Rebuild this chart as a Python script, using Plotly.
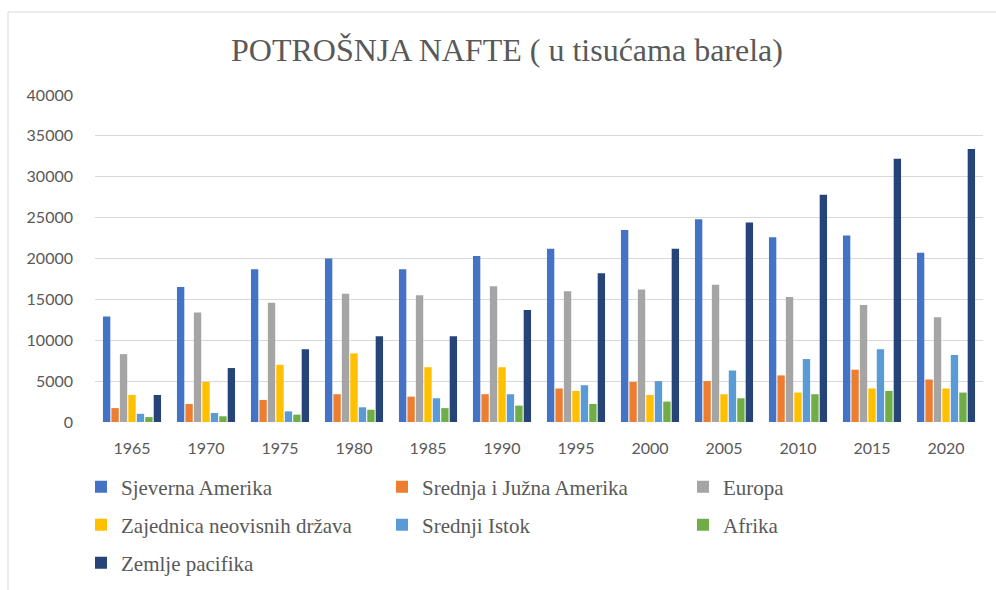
import plotly.graph_objects as go

years = ["1965", "1970", "1975", "1980", "1985", "1990", "1995", "2000", "2005", "2010", "2015", "2020"]

sjeverna_amerika = [12900, 16500, 18700, 20000, 18700, 20300, 21200, 23500, 24800, 22600, 22800, 20700]
srednja_juzna = [1700, 2200, 2700, 3400, 3100, 3400, 4100, 4900, 5000, 5700, 6400, 5200]
europa = [8300, 13400, 14600, 15700, 15500, 16600, 16000, 16200, 16800, 15300, 14300, 12800]
zajednica = [3300, 4900, 7000, 8400, 6700, 6700, 3800, 3300, 3400, 3600, 4100, 4100]
srednji_istok = [1000, 1100, 1300, 1800, 2900, 3400, 4500, 5000, 6300, 7700, 8900, 8200]
afrika = [600, 700, 900, 1500, 1700, 2000, 2200, 2500, 2900, 3400, 3800, 3600]
pacifik = [3300, 6600, 8900, 10500, 10500, 13700, 18200, 21200, 24400, 27800, 32200, 33400]

series = [
    ("Sjeverna Amerika", sjeverna_amerika, "#4472C4", "legend"),
    ("Srednja i Južna Amerika", srednja_juzna, "#ED7D31", "legend"),
    ("Europa", europa, "#A5A5A5", "legend"),
    ("Zajednica neovisnih država", zajednica, "#FFC000", "legend2"),
    ("Srednji Istok", srednji_istok, "#5B9BD5", "legend2"),
    ("Afrika", afrika, "#70AD47", "legend2"),
    ("Zemlje pacifika", pacifik, "#264478", "legend3"),
]

fig = go.Figure()
for name, vals, color, lg in series:
    fig.add_trace(go.Bar(x=years, y=vals, name=name, marker=dict(color=color, line=dict(width=0)),
                         legend=lg))

W, H = 996, 590
L, R, T, B = 95, 13, 95, 168
pw = W - L - R
ph = H - T - B

def px_x(px):
    return (px - L) / pw

def px_y(py):
    return (H - B - py) / ph

legend_font = dict(family="Liberation Serif", size=21, color="#595959")
leg_common = dict(orientation="h", xanchor="left", yanchor="middle", entrywidth=256,
                  font=legend_font, bgcolor="rgba(0,0,0,0)", borderwidth=0,
                  traceorder="normal", itemclick=False)

fig.update_layout(
    width=W, height=H,
    margin=dict(l=L, r=R, t=T, b=B, autoexpand=False),
    paper_bgcolor="white", plot_bgcolor="white",
    title=dict(text="POTROŠNJA NAFTE ( u tisućama barela)", x=507 / W, xanchor="center",
               y=1 - 50 / H, yanchor="middle", yref="container",
               font=dict(family="Liberation Serif", size=32, color="#595959")),
    barmode="group", bargap=0.2, bargroupgap=0.13,
    xaxis=dict(type="category", showgrid=False, showline=False, zeroline=False,
               ticks="", ticklabelstandoff=15,
               tickfont=dict(family="Lato", size=16, color="#595959")),
    yaxis=dict(range=[0, 40000], dtick=5000, showgrid=True, gridcolor="#d9d9d9", gridwidth=1,
               zeroline=False, showline=False, ticks="", ticklabelstandoff=21,
               tickformat="d",
               tickfont=dict(family="Lato", size=16, color="#595959")),
    legend=dict(x=px_x(81), y=px_y(487), **leg_common),
    legend2=dict(x=px_x(81), y=px_y(525), **leg_common),
    legend3=dict(x=px_x(81), y=px_y(563), **leg_common),
    shapes=[
        dict(type="line", xref="paper", yref="paper", x0=px_x(8), x1=px_x(1200), y0=px_y(12), y1=px_y(12),
             line=dict(color="#d9d9d9", width=1), layer="below"),
        dict(type="line", xref="paper", yref="paper", x0=px_x(8), x1=px_x(8), y0=px_y(12), y1=px_y(800),
             line=dict(color="#d9d9d9", width=1), layer="below"),
    ],
)

fig.write_html("out.html", config={"displayModeBar": False},
               post_script="document.body.style.margin='0';document.body.style.overflow='hidden';")
